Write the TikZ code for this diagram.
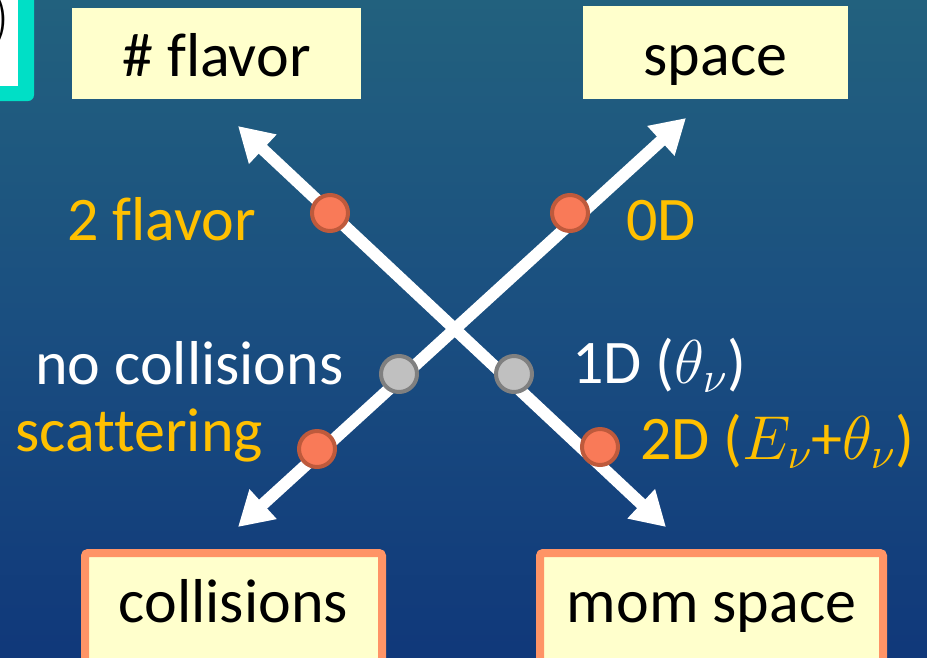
\RequirePackage{fix-cm}
\documentclass[tikz,border=0pt]{standalone}
\usepackage{fontspec}
\setmainfont{Carlito}[Ligatures={NoCommon}]
\usetikzlibrary{arrows.meta}
\definecolor{bgtop}{HTML}{22617E}
\definecolor{bgmid}{HTML}{1A4E80}
\definecolor{bgbot}{HTML}{10387A}
\definecolor{boxfill}{HTML}{FFFFCC}
\definecolor{salmon}{HTML}{FF9466}
\definecolor{labelorange}{HTML}{FFC000}
\definecolor{dotfill}{HTML}{F97A58}
\definecolor{dotedge}{HTML}{BE5A3C}
\definecolor{greyfill}{HTML}{C0C0C0}
\definecolor{greyedge}{HTML}{808080}
\definecolor{cyanedge}{HTML}{00DFC6}
\tikzset{
  bigtext/.style={font=\fontsize{62}{74}\selectfont},
  plainbox/.style={bigtext, fill=boxfill, draw=none, inner sep=0pt, text height=45pt, text depth=0pt, text=black},
  salmonbox/.style={bigtext, fill=boxfill, draw=salmon, line width=8pt, rounded corners=3pt, inner sep=0pt, text height=45pt, text depth=34pt, text=black},
  orangedot/.style={circle, fill=dotfill, draw=dotedge, line width=4pt, minimum size=36pt, inner sep=0pt},
  greydot/.style={circle, fill=greyfill, draw=greyedge, line width=4pt, minimum size=36pt, inner sep=0pt},
  axisarrow/.style={white, line width=12pt, {Triangle[length=34pt,width=38pt]}-{Triangle[length=34pt,width=38pt]}},
  wlabel/.style={bigtext, text=white, anchor=base west, inner sep=0pt},
  olabel/.style={bigtext, text=labelorange, anchor=base west, inner sep=0pt},
}
\begin{document}
\begin{tikzpicture}[x=1pt,y=-1pt]
\useasboundingbox (0,0) rectangle (927,657);
\clip (0,0) rectangle (927,657);
% background
\shade[top color=bgtop, bottom color=bgbot, middle color=bgmid] (0,0) rectangle (927,657);
% partial cyan box top-left
\fill[cyanedge, rounded corners=6pt] (-60,-60) rectangle (34,101);
\fill[white] (-60,-60) rectangle (18,86);
\node[font=\fontsize{62}{74}\selectfont, anchor=base east, inner sep=0pt] (paren) at (11,35) {$)$};
% top boxes
\node[plainbox, minimum width=289pt, minimum height=91pt] (flavor) at (216.5,53.5) {\# flavor};
\node[plainbox, minimum width=265pt, minimum height=93pt] (space) at (715.5,52.5) {space};
% bottom boxes
\node[salmonbox, minimum width=297pt, minimum height=127pt] (coll) at (233.5,616.5) {collisions};
\node[salmonbox, minimum width=343pt, minimum height=127pt] (mom) at (711.5,616.5) {mom space};
% arrow end points
\coordinate (tl) at (238,126);
\coordinate (br) at (666,527);
\coordinate (bl) at (238,527);
\coordinate (tr) at (686,118);
\draw[axisarrow] (tl) -- (br);
\draw[axisarrow] (bl) -- (tr);
% dots
\node[orangedot] (d2f) at (330,213) {};
\node[orangedot] (d0d) at (570,213) {};
\node[greydot] (dnc) at (399,374) {};
\node[greydot] (d1d) at (514,374) {};
\node[orangedot] (dsc) at (317,449) {};
\node[orangedot] (d2d) at (600,447) {};
% labels
\node[olabel] (l2f) at (67,240) {2 flavor};
\node[olabel] (l0d) at (626,240) {0D};
\node[wlabel] (lnc) at (35,384) {no collisions};
\node[olabel] (lsc) at (15,451) {scattering};
\node[wlabel] (l1d) at (572,383) {1D ($\theta_\nu$)};
\node[olabel] (l2d) at (640,459) {2D ($E_\nu$+$\theta_\nu$)};
\end{tikzpicture}
\end{document}
